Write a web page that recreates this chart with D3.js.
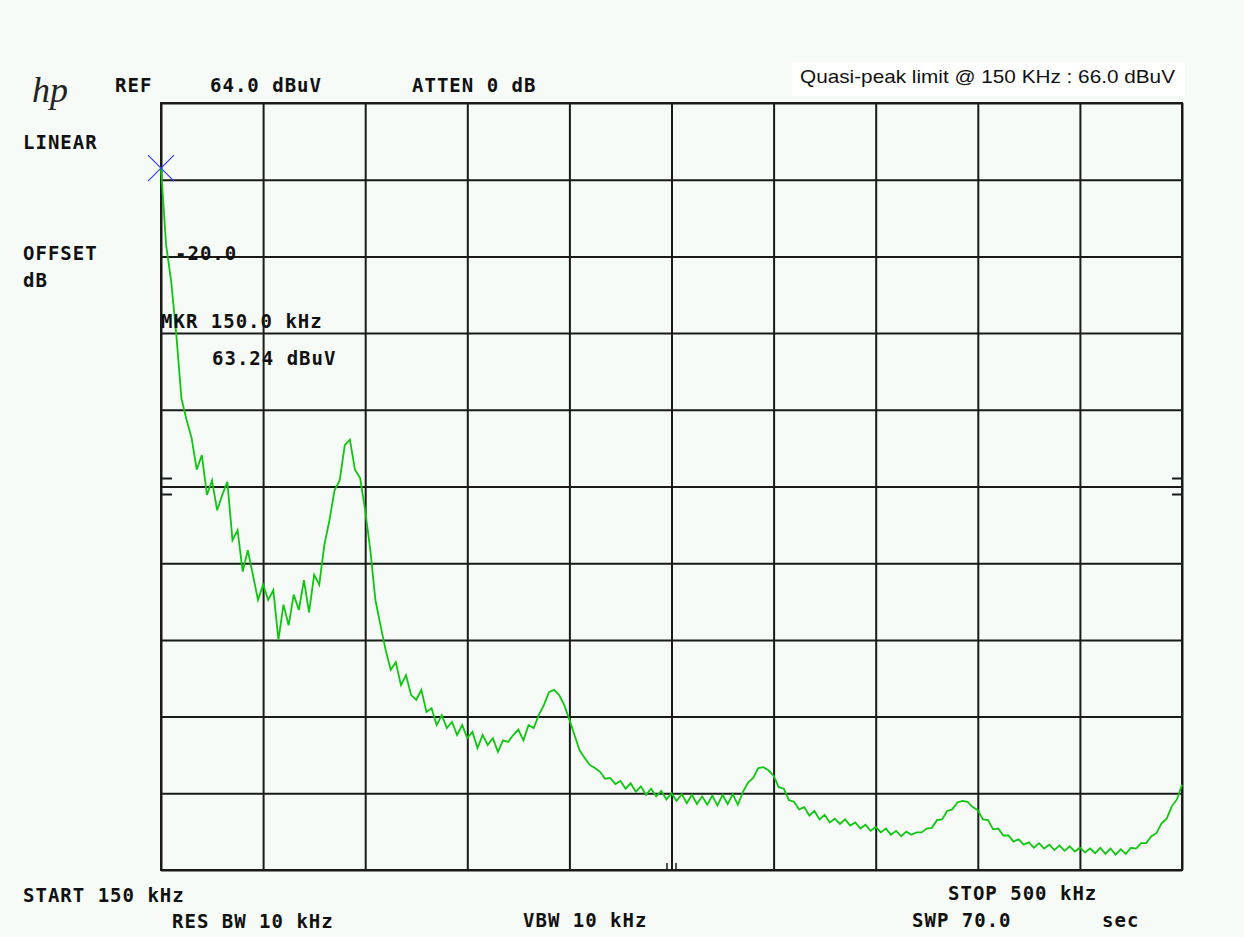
<!DOCTYPE html>
<html>
<head>
<meta charset="utf-8">
<script src="https://cdn.jsdelivr.net/npm/d3@7"></script>
<style>
  body { margin: 0; background: #f6fbf8; }
  .hud { font-family: "DejaVu Sans Mono", monospace; font-weight: bold; font-size: 19px; letter-spacing: 1px; fill: #111; }
  .grid line { stroke: #1a1a1a; stroke-width: 2; }
  .grid path { display: none; }
</style>
</head>
<body>
<div id="chart"></div>
<script>

// sweep settings
var startKHz = 150;
var stopKHz = 500;
var stepKHz = 1.75;

// trace amplitude, % of REF (linear scale), one value per sweep point
var amplitude = [
  91.5, 81.5, 76.7, 69.8, 61.5, 58.7, 56.3, 52.2, 54.1, 48.9,
  50.8, 46.9, 48.9, 50.6, 43.0, 44.3, 38.9, 41.7, 38.5, 35.2,
  37.2, 35.2, 36.5, 30.0, 34.6, 31.9, 35.9, 33.9, 37.8, 33.6,
  38.5, 37.2, 42.4, 45.6, 49.5, 50.8, 55.4, 56.1, 52.2, 51.1,
  46.9, 41.7, 35.2, 31.9, 28.7, 26.1, 27.1, 24.1, 25.4, 22.8,
  22.2, 23.5, 20.6, 21.1, 18.9, 20.2, 18.5, 19.3, 17.6, 18.9,
  17.2, 18.0, 15.9, 17.6, 16.3, 17.2, 15.4, 16.9, 16.7, 17.6,
  18.3, 16.9, 18.9, 18.5, 20.2, 21.5, 23.2, 23.5, 22.8, 21.5,
  19.6, 17.6, 15.6, 14.6, 13.7, 13.3, 12.8, 11.9, 12.0, 11.2,
  11.6, 10.6, 11.3, 10.2, 10.9, 9.8, 10.6, 9.6, 10.3, 9.2,
  10.0, 9.0, 9.9, 8.7, 9.8, 8.6, 9.6, 8.5, 9.7, 8.4,
  9.8, 8.6, 9.9, 8.5, 10.2, 11.4, 12.0, 13.3, 13.4, 13.0,
  12.3, 10.8, 10.6, 9.1, 8.9, 7.9, 8.2, 7.1, 7.7, 6.6,
  7.2, 6.2, 6.7, 6.0, 6.6, 5.8, 6.2, 5.4, 5.9, 5.1,
  5.6, 4.9, 5.4, 4.6, 5.1, 4.4, 5.0, 4.6, 4.9, 4.9,
  5.4, 5.5, 6.5, 6.6, 7.7, 7.9, 8.8, 9.0, 8.9, 8.2,
  7.8, 6.6, 6.5, 5.3, 5.4, 4.5, 4.5, 3.7, 4.0, 3.3,
  3.6, 2.9, 3.5, 2.8, 3.3, 2.6, 3.2, 2.5, 3.1, 2.4,
  2.9, 2.3, 2.8, 2.2, 2.9, 2.1, 2.8, 2.0, 2.7, 2.1,
  2.9, 2.8, 3.5, 3.5, 4.4, 4.8, 6.1, 6.7, 8.3, 9.2,
  11.1
];

// marker
var markerKHz = 150;
var markerAmp = 91.5;

// annotation texts
var topLabels = [
  {text: "REF", x: 115, y: 92},
  {text: "64.0 dBuV", x: 210, y: 92},
  {text: "ATTEN 0 dB", x: 412, y: 92},
  {text: "LINEAR", x: 23, y: 149},
  {text: "OFFSET", x: 23, y: 260},
  {text: "dB", x: 23, y: 287},
  {text: "-20.0", x: 175, y: 260},
  {text: "MKR 150.0 kHz", x: 161, y: 328},
  {text: "63.24 dBuV", x: 212, y: 365},
  {text: "START 150 kHz", x: 23, y: 902},
  {text: "RES BW 10 kHz", x: 172, y: 928},
  {text: "VBW 10 kHz", x: 523, y: 927},
  {text: "STOP 500 kHz", x: 948, y: 900},
  {text: "SWP 70.0", x: 912, y: 927},
  {text: "sec", x: 1102, y: 927}
];
var limitNote = "Quasi-peak limit @ 150 KHz : 66.0 dBuV";

var W = 1244, H = 937;
var margin = {top: 103, left: 161, right: 62, bottom: 67};
var width = W - margin.left - margin.right;
var height = H - margin.top - margin.bottom;

var svg = d3.select("#chart").append("svg")
    .attr("width", W)
    .attr("height", H);

svg.append("rect")
    .attr("width", W).attr("height", H)
    .attr("fill", "#f6fbf8");

var g = svg.append("g")
    .attr("transform", "translate(" + margin.left + "," + margin.top + ")");

var x = d3.scaleLinear().domain([startKHz, stopKHz]).range([0, width]);
var y = d3.scaleLinear().domain([0, 100]).range([height, 0]);

//graticule, 10 x 10 divisions
g.append("g")
    .attr("class", "grid")
    .attr("transform", "translate(0," + height + ")")
    .call(d3.axisBottom(x)
        .tickValues(d3.range(startKHz, stopKHz + 1, (stopKHz - startKHz) / 10))
        .tickSize(height)
        .tickFormat(""))
    .selectAll("line").attr("y2", -height);

g.append("g")
    .attr("class", "grid")
    .call(d3.axisLeft(y)
        .tickValues(d3.range(0, 101, 10))
        .tickSize(-width)
        .tickFormat(""));

g.append("rect")
    .attr("width", width).attr("height", height)
    .attr("fill", "none")
    .attr("stroke", "#1a1a1a")
    .attr("stroke-width", 2);

// little reference ticks on both sides of the centre line
[-8, 8].forEach(function (d) {
    g.append("line")
        .attr("x1", 0).attr("x2", 11)
        .attr("y1", y(50) + d).attr("y2", y(50) + d)
        .attr("stroke", "#1a1a1a").attr("stroke-width", 2);
    g.append("line")
        .attr("x1", width - 10).attr("x2", width)
        .attr("y1", y(50) + d).attr("y2", y(50) + d)
        .attr("stroke", "#1a1a1a").attr("stroke-width", 2);
});

// centre frequency ticks at the bottom
[-4.5, 4.5].forEach(function (d) {
    g.append("line")
        .attr("x1", x(325) + d).attr("x2", x(325) + d)
        .attr("y1", height - 7).attr("y2", height)
        .attr("stroke", "#1a1a1a").attr("stroke-width", 1.5);
});

// trace
var line = d3.line()
    .x(function (d, i) { return x(startKHz + i * stepKHz); })
    .y(function (d) { return y(d); });

g.append("path")
    .datum(amplitude)
    .attr("d", line)
    .attr("fill", "none")
    .attr("stroke", "#12c412")
    .attr("stroke-width", 1.8)
    .attr("stroke-linejoin", "miter");

// marker cross
var mx = x(markerKHz), my = y(markerAmp);
g.append("path")
    .attr("d", "M" + (mx - 13) + "," + (my - 13) + "L" + (mx + 13) + "," + (my + 13) +
               "M" + (mx - 13) + "," + (my + 13) + "L" + (mx + 13) + "," + (my - 13))
    .attr("stroke", "#2f3fe0")
    .attr("stroke-width", 1.2)
    .attr("fill", "none");

// hp logo
svg.append("text")
    .attr("x", 32).attr("y", 102)
    .style("font-family", "Liberation Serif")
    .style("font-style", "italic")
    .style("font-size", "36px")
    .attr("fill", "#222")
    .text("hp");

svg.selectAll(".hud")
    .data(topLabels)
    .enter().append("text")
    .attr("class", "hud")
    .attr("x", function (d) { return d.x; })
    .attr("y", function (d) { return d.y; })
    .text(function (d) { return d.text; });

// limit note box
svg.append("rect")
    .attr("x", 792).attr("y", 62)
    .attr("width", 393).attr("height", 34)
    .attr("fill", "#ffffff");

svg.append("text")
    .attr("x", 800).attr("y", 83)
    .attr("textLength", 375)
    .attr("lengthAdjust", "spacingAndGlyphs")
    .style("font-family", "Liberation Sans, Arial")
    .style("font-size", "19px")
    .attr("fill", "#111")
    .text(limitNote);

</script>
</body>
</html>
